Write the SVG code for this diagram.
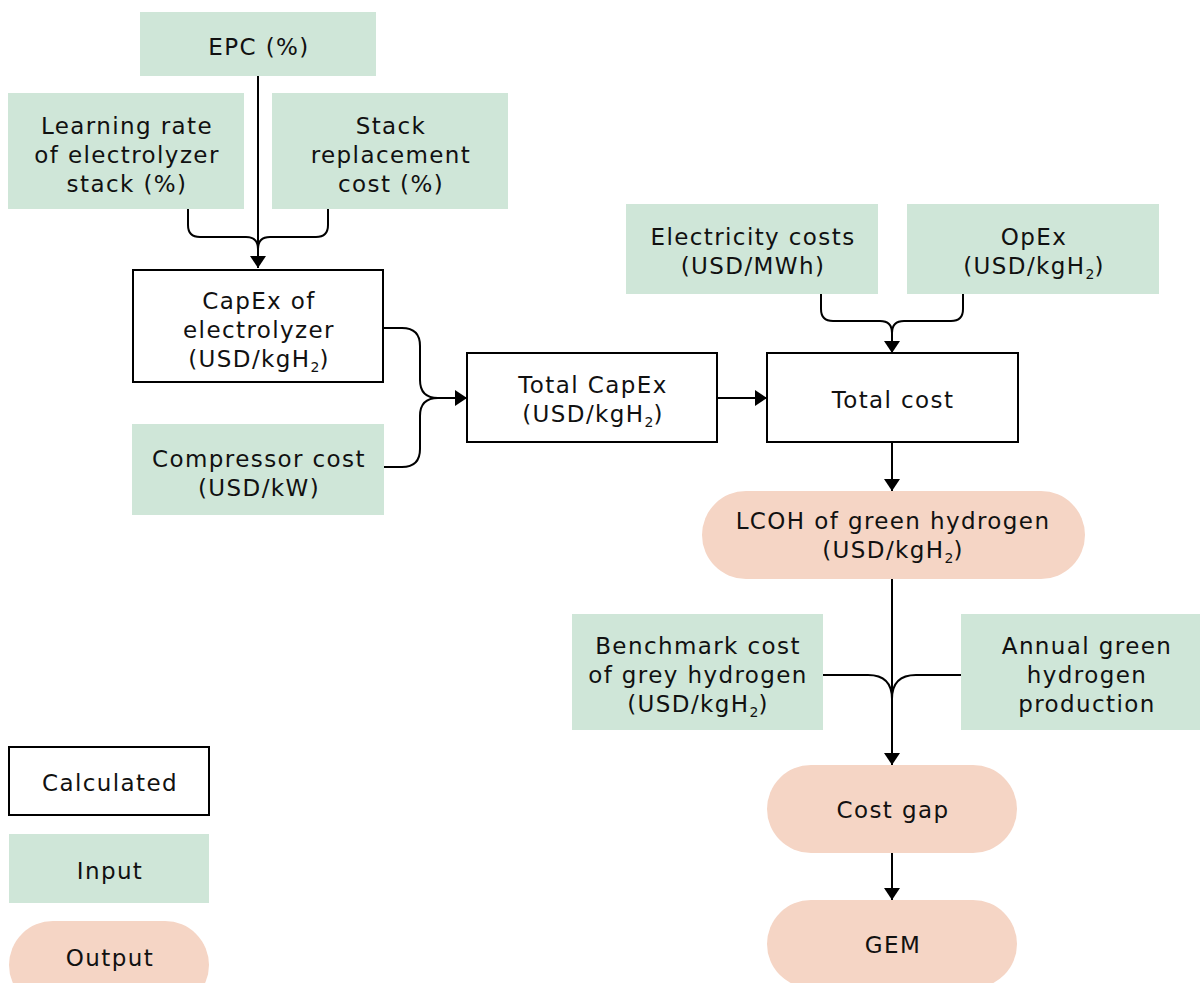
<svg xmlns="http://www.w3.org/2000/svg" width="1200" height="983" viewBox="0 0 1200 983">
  <defs>
    <marker id="arrow" markerUnits="userSpaceOnUse" markerWidth="14" markerHeight="18" refX="12" refY="8" orient="auto">
      <path d="M0,0 L12,8 L0,16 Z" fill="#000"/>
    </marker>
    <style>
      .input { fill: #cfe6d8; }
      .calc { fill: #fff; stroke: #000; stroke-width: 2; }
      .output { fill: #f5d5c5; }
      .label { font-family: "DejaVu Sans", "Noto Sans", sans-serif; font-size: 23px; letter-spacing: 1.4px; fill: #111; text-anchor: middle; }
      .sub { font-size: 14px; letter-spacing: 0; }
      .conn { fill: none; stroke: #000; stroke-width: 2; }
    </style>
  </defs>
  <rect width="1200" height="983" fill="#fff"/>

  <!-- connectors -->
  <g id="connectors">
    <path class="conn" d="M258,76 V268" marker-end="url(#arrow)"/>
    <path class="conn" d="M188,209 V225 Q188,237 200,237 H246 Q258,237 258,249"/>
    <path class="conn" d="M328,209 V225 Q328,237 316,237 H270 Q258,237 258,249"/>
    <path class="conn" d="M383,328 H402 Q420,328 420,346 V380 Q420,398 438,398 H467" marker-end="url(#arrow)"/>
    <path class="conn" d="M384,467 H402 Q420,467 420,449 V416 Q420,398 438,398"/>
    <path class="conn" d="M717,398 H767" marker-end="url(#arrow)"/>
    <path class="conn" d="M892,333 V353" marker-end="url(#arrow)"/>
    <path class="conn" d="M821,294 V309 Q821,321 833,321 H880 Q892,321 892,333"/>
    <path class="conn" d="M963,294 V309 Q963,321 951,321 H904 Q892,321 892,333"/>
    <path class="conn" d="M892,442 V491" marker-end="url(#arrow)"/>
    <path class="conn" d="M892,579 V765" marker-end="url(#arrow)"/>
    <path class="conn" d="M823,675 H868 Q892,675 892,699"/>
    <path class="conn" d="M961,675 H916 Q892,675 892,699"/>
    <path class="conn" d="M892,853 V900" marker-end="url(#arrow)"/>
  </g>

  <g id="epc">
    <rect class="input" x="140" y="12" width="236" height="64"/>
    <text class="label" x="259" y="55">EPC (%)</text>
  </g>
  <g id="learning-rate">
    <rect class="input" x="8" y="93" width="236" height="116"/>
    <text class="label" x="127" y="134">Learning rate</text>
    <text class="label" x="127" y="163">of electrolyzer</text>
    <text class="label" x="127" y="192">stack (%)</text>
  </g>
  <g id="stack-replacement">
    <rect class="input" x="272" y="93" width="236" height="116"/>
    <text class="label" x="391" y="134">Stack</text>
    <text class="label" x="391" y="163">replacement</text>
    <text class="label" x="391" y="192">cost (%)</text>
  </g>
  <g id="capex-electrolyzer">
    <rect class="calc" x="133" y="270" width="250" height="112"/>
    <text class="label" x="259" y="309">CapEx of</text>
    <text class="label" x="259" y="338">electrolyzer</text>
    <text class="label" x="259" y="367">(USD/kgH<tspan class="sub" dy="5">2</tspan><tspan dy="-5">)</tspan></text>
  </g>
  <g id="compressor-cost">
    <rect class="input" x="132" y="424" width="252" height="91"/>
    <text class="label" x="259" y="467">Compressor cost</text>
    <text class="label" x="259" y="496">(USD/kW)</text>
  </g>
  <g id="total-capex">
    <rect class="calc" x="467" y="353" width="250" height="89"/>
    <text class="label" x="593" y="393">Total CapEx</text>
    <text class="label" x="593" y="422">(USD/kgH<tspan class="sub" dy="5">2</tspan><tspan dy="-5">)</tspan></text>
  </g>
  <g id="electricity-costs">
    <rect class="input" x="626" y="204" width="252" height="90"/>
    <text class="label" x="753" y="245">Electricity costs</text>
    <text class="label" x="753" y="274">(USD/MWh)</text>
  </g>
  <g id="opex">
    <rect class="input" x="907" y="204" width="252" height="90"/>
    <text class="label" x="1034" y="245">OpEx</text>
    <text class="label" x="1034" y="274">(USD/kgH<tspan class="sub" dy="5">2</tspan><tspan dy="-5">)</tspan></text>
  </g>
  <g id="total-cost">
    <rect class="calc" x="767" y="353" width="251" height="89"/>
    <text class="label" x="893" y="408">Total cost</text>
  </g>
  <g id="lcoh">
    <rect class="output" x="702" y="491" width="383" height="88" rx="44"/>
    <text class="label" x="893" y="529">LCOH of green hydrogen</text>
    <text class="label" x="893" y="558">(USD/kgH<tspan class="sub" dy="5">2</tspan><tspan dy="-5">)</tspan></text>
  </g>
  <g id="benchmark-cost">
    <rect class="input" x="572" y="614" width="251" height="116"/>
    <text class="label" x="698" y="654">Benchmark cost</text>
    <text class="label" x="698" y="683">of grey hydrogen</text>
    <text class="label" x="698" y="712">(USD/kgH<tspan class="sub" dy="5">2</tspan><tspan dy="-5">)</tspan></text>
  </g>
  <g id="annual-production">
    <rect class="input" x="961" y="614" width="251" height="116"/>
    <text class="label" x="1087" y="654">Annual green</text>
    <text class="label" x="1087" y="683">hydrogen</text>
    <text class="label" x="1087" y="712">production</text>
  </g>
  <g id="cost-gap">
    <rect class="output" x="767" y="765" width="250" height="88" rx="44"/>
    <text class="label" x="893" y="818">Cost gap</text>
  </g>
  <g id="gem">
    <rect class="output" x="767" y="900" width="250" height="88" rx="44"/>
    <text class="label" x="893" y="953">GEM</text>
  </g>

  <!-- legend -->
  <g id="legend-calculated">
    <rect class="calc" x="9" y="747" width="200" height="68"/>
    <text class="label" x="110" y="791">Calculated</text>
  </g>
  <g id="legend-input">
    <rect class="input" x="9" y="834" width="200" height="69"/>
    <text class="label" x="110" y="879">Input</text>
  </g>
  <g id="legend-output">
    <rect class="output" x="9" y="921" width="200" height="88" rx="44"/>
    <text class="label" x="110" y="966">Output</text>
  </g>
</svg>
